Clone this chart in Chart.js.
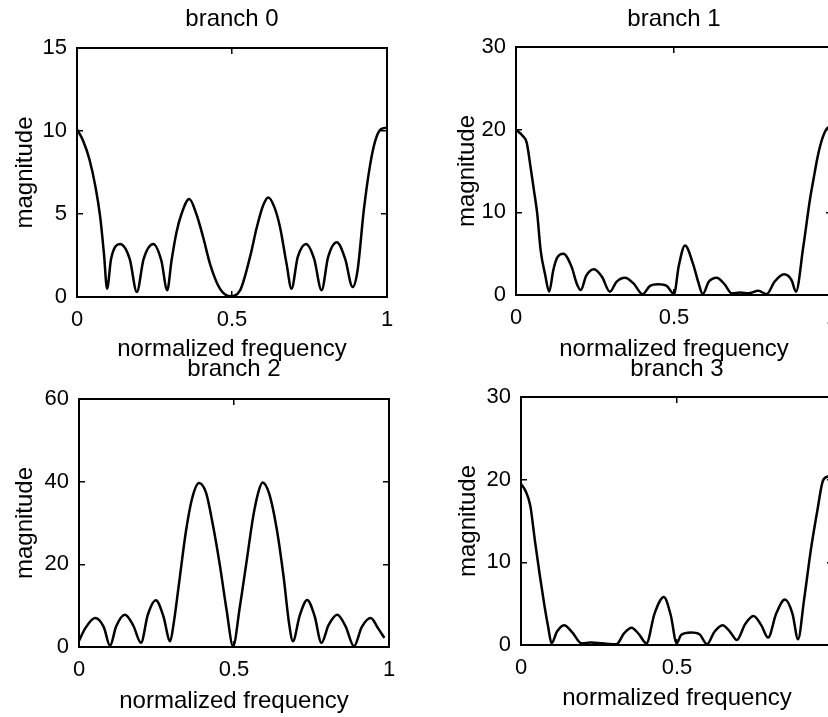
<!DOCTYPE html>
<html>
<head>
<meta charset="utf-8">
<title>branch magnitude responses</title>
<script src="https://cdn.jsdelivr.net/npm/chart.js@4.4.1/dist/chart.umd.min.js"></script>
<style>
    html, body { margin: 0; padding: 0; background: #fff; }
    body { width: 828px; height: 717px; overflow: hidden; position: relative; }
    canvas { position: absolute; }
</style>
</head>
<body>
<canvas id="branch0" width="412" height="372" style="left:0;top:0"></canvas>
<canvas id="branch1" width="430" height="372" style="left:430px;top:0"></canvas>
<canvas id="branch2" width="414" height="372" style="left:0;top:345px"></canvas>
<canvas id="branch3" width="440" height="372" style="left:430px;top:345px"></canvas>
<script>
(function () {
    'use strict';

    // values (normalized frequency -> magnitude)
    var branch0Freq = [0, 0.02, 0.04, 0.06, 0.075, 0.087, 0.097, 0.11, 0.139, 0.17, 0.193, 0.215, 0.246, 0.272, 0.291,
        0.305, 0.321, 0.337, 0.362, 0.385, 0.407, 0.429, 0.461, 0.494, 0.526, 0.558, 0.58, 0.6, 0.617, 0.637, 0.655,
        0.676, 0.692, 0.712, 0.739, 0.765, 0.789, 0.81, 0.838, 0.865, 0.889, 0.905, 0.925, 0.945, 0.962, 0.98, 1.0];
    var branch0Mag = [10.1, 9.4, 8.3, 6.6, 4.8, 2.6, 0.5, 2.3, 3.2, 2.3, 0.3, 2.3, 3.2, 2.2, 0.4,
        2.2, 3.9, 5.0, 5.9, 5.0, 3.6, 2.0, 0.5, 0.05, 0.4, 2.4, 4.2, 5.5, 6.0, 5.4, 4.2,
        2.0, 0.5, 2.4, 3.2, 2.3, 0.4, 2.4, 3.3, 2.3, 0.6, 1.6, 5.2, 7.9, 9.4, 10.1, 10.2];

    var branch1Freq = [0, 0.02, 0.034, 0.046, 0.057, 0.067, 0.078, 0.092, 0.105, 0.118, 0.13, 0.15, 0.176, 0.192, 0.205,
        0.222, 0.247, 0.272, 0.297, 0.318, 0.345, 0.372, 0.401, 0.424, 0.45, 0.477, 0.5, 0.515, 0.535, 0.56, 0.578,
        0.591, 0.61, 0.635, 0.66, 0.683, 0.71, 0.735, 0.767, 0.793, 0.818, 0.848, 0.872, 0.886, 0.909, 0.93, 0.941,
        0.955, 0.97, 0.985, 1.0];
    var branch1Mag = [20.0, 19.3, 18.4, 15.5, 12.6, 9.9, 5.4, 2.5, 0.4, 3.0, 4.5, 5.0, 3.4, 1.4, 0.6,
        2.3, 3.1, 2.2, 0.4, 1.6, 2.1, 1.4, 0.1, 1.1, 1.3, 1.1, 0.1, 3.5, 6.0, 3.8, 1.4,
        0.1, 1.6, 2.1, 1.3, 0.2, 0.3, 0.2, 0.5, 0.1, 1.6, 2.5, 1.8, 0.4, 5.8, 11.5, 13.9,
        16.8, 19.0, 20.2, 20.4];

    var branch2Freq = [0, 0.02, 0.052, 0.08, 0.1, 0.12, 0.148, 0.175, 0.2, 0.222, 0.248, 0.272, 0.294, 0.305, 0.322,
        0.345, 0.365, 0.387, 0.41, 0.432, 0.455, 0.476, 0.497, 0.519, 0.541, 0.562, 0.578, 0.592, 0.614, 0.638,
        0.66, 0.678, 0.69, 0.712, 0.736, 0.76, 0.782, 0.805, 0.833, 0.86, 0.887, 0.912, 0.941, 0.965, 0.985];
    var branch2Mag = [1.5, 4.5, 7.0, 4.8, 0.3, 5.0, 7.8, 5.2, 1.0, 7.8, 11.3, 7.5, 1.4, 5.5, 15.0,
        28.0, 36.0, 39.7, 37.3, 29.5, 19.5, 9.0, 0.2, 9.8, 20.9, 31.6, 37.3, 39.8, 37.0, 28.5,
        17.0, 5.5, 1.4, 7.6, 11.4, 7.5, 1.0, 5.3, 7.8, 5.0, 0.2, 4.8, 7.0, 4.5, 2.2];

    var branch3Freq = [0, 0.015, 0.03, 0.045, 0.06, 0.075, 0.087, 0.098, 0.115, 0.138, 0.165, 0.194, 0.224, 0.26, 0.306,
        0.33, 0.354, 0.378, 0.402, 0.428, 0.458, 0.48, 0.499, 0.513, 0.545, 0.572, 0.596, 0.62, 0.646, 0.67,
        0.692, 0.718, 0.745, 0.77, 0.792, 0.818, 0.846, 0.87, 0.888, 0.907, 0.929, 0.95, 0.968, 0.985, 1.0];
    var branch3Mag = [19.5, 18.6, 16.8, 12.5, 8.5, 4.8, 2.2, 0.2, 1.6, 2.4, 1.5, 0.2, 0.3, 0.2, 0.1,
        1.4, 2.1, 1.3, 0.2, 3.8, 5.8, 3.6, 0.2, 1.2, 1.5, 1.3, 0.1, 1.6, 2.4, 1.6,
        0.6, 2.5, 3.5, 2.4, 0.9, 3.8, 5.5, 3.8, 0.7, 5.4, 11.5, 16.3, 19.9, 20.4, 20.5];

    var titles = ['branch 0', 'branch 1', 'branch 2', 'branch 3'];
    var yMaxes = [15, 30, 60, 30];
    var ySteps = [5, 10, 20, 10];
    var freqs = [branch0Freq, branch1Freq, branch2Freq, branch3Freq];
    var mags = [branch0Mag, branch1Mag, branch2Mag, branch3Mag];

    // box sizes around each plot area: left/right axis widths, top/bottom axis heights
    var boxes = [
        { left: 77, right: 25, top: 48, bottom: 75, titlePad: 5, xTitlePad: 8, yTitlePad: 11 },
        { left: 86, right: 28, top: 47, bottom: 77, titlePad: 5, xTitlePad: 8, yTitlePad: 23 },
        { left: 79, right: 25, top: 54, bottom: 70, titlePad: 10, xTitlePad: 1, yTitlePad: 11 },
        { left: 91, right: 37, top: 52, bottom: 72, titlePad: 10, xTitlePad: 4, yTitlePad: 24 }
    ];

    Chart.defaults.font.family = '"Liberation Sans", Arial, Helvetica, sans-serif';
    Chart.defaults.color = '#000';

    function setWidth(w) {
        return function (scale) { scale.width = w; };
    }
    function setHeight(h) {
        return function (scale) { scale.height = h; };
    }
    function plainNumber(v) {
        return String(v);
    }

    var grid = { display: true, drawOnChartArea: false, drawTicks: true, tickLength: -6, color: '#000', lineWidth: 1.5 };
    var border = { display: true, color: '#000', width: 2 };

    function draw(i) {
        var box = boxes[i];
        var points = [];
        for (var k = 0; k < freqs[i].length; k++) {
            points.push({ x: freqs[i][k], y: mags[i][k] });
        }
        new Chart(document.getElementById('branch' + i), {
            type: 'line',
            data: {
                datasets: [{
                    data: points,
                    borderColor: '#000',
                    borderWidth: 2.5,
                    pointRadius: 0,
                    fill: false,
                    cubicInterpolationMode: 'monotone'
                }]
            },
            options: {
                responsive: false,
                animation: false,
                devicePixelRatio: 1,
                layout: { padding: 0 },
                plugins: { legend: { display: false }, tooltip: { enabled: false } },
                scales: {
                    x: {
                        type: 'linear', position: 'bottom', min: 0, max: 1,
                        ticks: { stepSize: 0.5, padding: 16, maxRotation: 0, autoSkip: false, font: { size: 22 }, callback: plainNumber },
                        grid: grid, border: border,
                        title: { display: true, text: 'normalized frequency', font: { size: 24 }, padding: { top: 0, bottom: box.xTitlePad } },
                        afterFit: setHeight(box.bottom)
                    },
                    xTop: {
                        axis: 'x', type: 'linear', position: 'top', min: 0, max: 1,
                        ticks: { display: false, stepSize: 0.5 },
                        grid: grid, border: border,
                        title: { display: true, text: titles[i], font: { size: 24 }, padding: { top: box.titlePad, bottom: 0 } },
                        afterFit: setHeight(box.top)
                    },
                    y: {
                        type: 'linear', position: 'left', min: 0, max: yMaxes[i],
                        ticks: { stepSize: ySteps[i], padding: 16, font: { size: 22 } },
                        grid: grid, border: border,
                        title: { display: true, text: 'magnitude', font: { size: 24 }, padding: { top: box.yTitlePad, bottom: 0 } },
                        afterFit: setWidth(box.left)
                    },
                    yRight: {
                        axis: 'y', type: 'linear', position: 'right', min: 0, max: yMaxes[i],
                        ticks: { display: false, stepSize: ySteps[i] },
                        grid: grid, border: border,
                        afterFit: setWidth(box.right)
                    }
                }
            }
        });
    }

    for (var i = 0; i < 4; i++) {
        draw(i);
    }
})();
</script>
</body>
</html>
